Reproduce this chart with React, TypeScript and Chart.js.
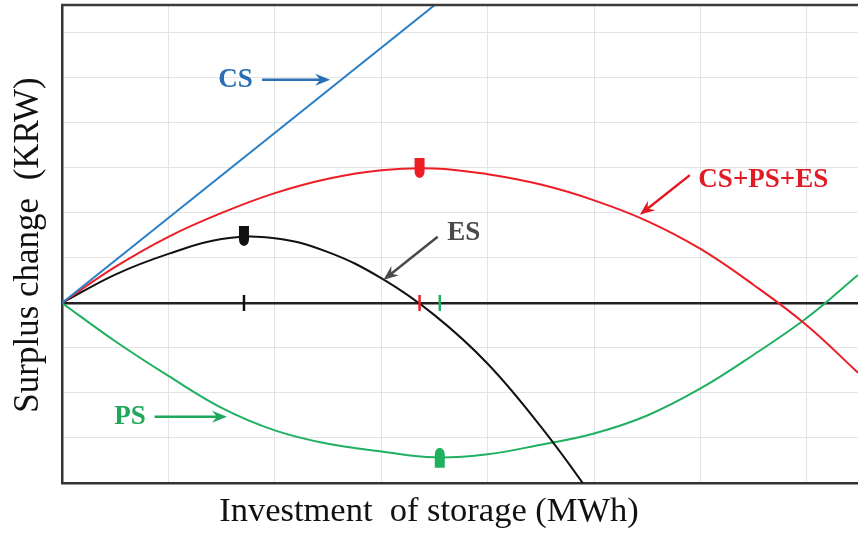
import React, { useEffect, useRef } from "react";
import { Chart, registerables } from "chart.js";

Chart.register(...registerables);

// ---- data ----
const xCS = [0, 4];
const yCS = [0, 7.56];

const xTotal = [0, 0.5, 1, 1.5, 2, 2.5, 3, 3.5, 4, 4.5, 5, 5.5, 6, 6.5, 7, 7.48];
const yTotal = [0, 0.8, 1.47, 2.0, 2.44, 2.76, 2.95, 2.99, 2.86, 2.63, 2.28, 1.82, 1.2, 0.4, -0.5, -1.55];

const xES = [0, 0.5, 1, 1.5, 2, 2.5, 3, 3.5, 4, 4.5, 5, 5.5];
const yES = [0, 0.63, 1.09, 1.42, 1.44, 1.13, 0.55, -0.27, -1.35, -2.75, -4.35, -6.0];

const xPS = [0, 0.5, 1, 1.5, 2, 2.5, 3, 3.5, 4, 4.5, 5, 5.5, 6, 6.5, 7, 7.48];
const yPS = [0, -0.85, -1.62, -2.33, -2.83, -3.13, -3.3, -3.43, -3.36, -3.15, -2.9, -2.5, -1.9, -1.15, -0.33, 0.62];

// optimum markers (x, y, direction) and their ticks on the zero axis
const optX = [1.71, 3.36, 3.55];
const optY = [1.49, 3.0, -3.44];
const optDir = ["down", "down", "up"];

// curve labels: text anchor and arrow from/to in data units
const labelText = ["CS", "CS+PS+ES", "ES", "PS"];
const labelX = [1.63, 5.98, 3.62, 0.64];
const labelY = [4.96, 2.73, 1.56, -2.53];
const labelAlign = ["center", "left", "left", "center"];
const arrowFromX = [1.88, 5.9, 3.53, 0.87];
const arrowFromY = [4.96, 2.84, 1.47, -2.53];
const arrowToX = [2.52, 5.43, 3.02, 1.55];
const arrowToY = [4.96, 1.96, 0.51, -2.53];

const xMin = 0, xMax = 7.48, yMin = -4, yMax = 6.62;

const BLUE = "#2b7fc4";
const RED = "#ee1c25";
const BLACK = "#111111";
const GREEN = "#1fb060";
const labelColors = ["#2a6fb3", "#e01b24", "#4a4a4a", "#1ea85c"];
const optColors = [BLACK, RED, GREEN];

const pts = (xs: number[], ys: number[]) => xs.map((x, i) => ({ x, y: ys[i] }));

function drawArrow(ctx: CanvasRenderingContext2D, x1: number, y1: number, x2: number, y2: number, color: string) {
  const ang = Math.atan2(y2 - y1, x2 - x1);
  const hl = 15, hw = 6;
  ctx.save();
  ctx.strokeStyle = color;
  ctx.fillStyle = color;
  ctx.lineWidth = 2.5;
  ctx.beginPath();
  ctx.moveTo(x1, y1);
  ctx.lineTo(x2 - Math.cos(ang) * 6, y2 - Math.sin(ang) * 6);
  ctx.stroke();
  ctx.translate(x2, y2);
  ctx.rotate(ang);
  ctx.beginPath();
  ctx.moveTo(0, 0);
  ctx.lineTo(-hl, -hw);
  ctx.lineTo(-hl + 5, 0);
  ctx.lineTo(-hl, hw);
  ctx.closePath();
  ctx.fill();
  ctx.restore();
}

function drawBullet(ctx: CanvasRenderingContext2D, x: number, y: number, dir: string, color: string) {
  const w = 10, h = 20;
  ctx.save();
  ctx.fillStyle = color;
  ctx.translate(x, y);
  if (dir === "up") ctx.scale(1, -1);
  ctx.beginPath();
  ctx.moveTo(-w / 2, -h / 2);
  ctx.lineTo(w / 2, -h / 2);
  ctx.lineTo(w / 2, h / 2 - 7);
  ctx.quadraticCurveTo(w / 2, h / 2 - 1, 0, h / 2);
  ctx.quadraticCurveTo(-w / 2, h / 2 - 1, -w / 2, h / 2 - 7);
  ctx.closePath();
  ctx.fill();
  ctx.restore();
}

const overlay = {
  id: "overlay",
  afterDatasetsDraw(chart: any) {
    const { ctx, chartArea, scales } = chart;
    const sx = scales.x, sy = scales.y;
    ctx.save();
    // top frame line
    ctx.strokeStyle = "#3a3a3a";
    ctx.lineWidth = 2.5;
    ctx.beginPath();
    ctx.moveTo(chartArea.left - 1, chartArea.top);
    ctx.lineTo(chartArea.right, chartArea.top);
    ctx.stroke();

    // ticks on zero axis
    const y0 = sy.getPixelForValue(0);
    optX.forEach((v, i) => {
      const px = sx.getPixelForValue(v);
      ctx.strokeStyle = optColors[i];
      ctx.lineWidth = 2.5;
      ctx.beginPath();
      ctx.moveTo(px, y0 - 8);
      ctx.lineTo(px, y0 + 8);
      ctx.stroke();
    });
    // optimum markers
    optX.forEach((v, i) => {
      drawBullet(ctx, sx.getPixelForValue(v), sy.getPixelForValue(optY[i]), optDir[i], optColors[i]);
    });
    // labels & arrows
    labelText.forEach((t, i) => {
      drawArrow(
        ctx,
        sx.getPixelForValue(arrowFromX[i]), sy.getPixelForValue(arrowFromY[i]),
        sx.getPixelForValue(arrowToX[i]), sy.getPixelForValue(arrowToY[i]),
        labelColors[i]
      );
      ctx.fillStyle = labelColors[i];
      ctx.font = "bold 27px 'Liberation Serif', 'Times New Roman', serif";
      ctx.textAlign = labelAlign[i] as CanvasTextAlign;
      ctx.textBaseline = "middle";
      ctx.fillText(t, sx.getPixelForValue(labelX[i]), sy.getPixelForValue(labelY[i]));
    });

    // axis titles
    ctx.fillStyle = "#111";
    ctx.textAlign = "center";
    ctx.textBaseline = "middle";
    ctx.font = "34.5px 'Liberation Serif', 'Times New Roman', serif";
    ctx.fillText("Investment  of storage (MWh)", 429, 512);
    ctx.save();
    ctx.translate(29, 245);
    ctx.rotate(-Math.PI / 2);
    ctx.font = "35px 'Liberation Serif', 'Times New Roman', serif";
    ctx.fillText("Surplus change  (KRW)", 0, 0);
    ctx.restore();
    ctx.restore();
  },
};

export default function App() {
  const ref = useRef<HTMLCanvasElement | null>(null);
  useEffect(() => {
    document.body.style.margin = "0";
    if (!ref.current) return;
    const chart = new Chart(ref.current, {
      type: "line",
      data: {
        datasets: [
          { label: "CS", data: pts(xCS, yCS), borderColor: BLUE, borderWidth: 2, pointRadius: 0, tension: 0 },
          { label: "CS+PS+ES", data: pts(xTotal, yTotal), borderColor: RED, borderWidth: 2, pointRadius: 0, tension: 0.4 },
          { label: "ES", data: pts(xES, yES), borderColor: BLACK, borderWidth: 2, pointRadius: 0, tension: 0.4 },
          { label: "PS", data: pts(xPS, yPS), borderColor: GREEN, borderWidth: 2, pointRadius: 0, tension: 0.4 },
        ],
      },
      options: {
        animation: false,
        responsive: true,
        maintainAspectRatio: false,
        layout: { padding: { left: 62, top: 5, right: 0, bottom: 50 } },
        plugins: { legend: { display: false }, tooltip: { enabled: false } },
        scales: {
          x: {
            type: "linear",
            min: xMin,
            max: xMax,
            ticks: { display: false, stepSize: 1 },
            grid: {
              drawTicks: false,
              color: (c: any) => (c.tick && c.tick.value > 7.2 ? "rgba(0,0,0,0)" : "#e4e4e4"),
              lineWidth: 1,
            },
            border: { display: true, color: "#333", width: 2.5 },
            afterFit: (s: any) => { s.height = 0; },
          },
          y: {
            type: "linear",
            min: yMin,
            max: yMax,
            ticks: { display: false, stepSize: 1 },
            grid: {
              drawTicks: false,
              color: (c: any) => (c.tick && c.tick.value === 0 ? "#222" : "#e4e4e4"),
              lineWidth: (c: any) => (c.tick && c.tick.value === 0 ? 2.5 : 1),
            },
            border: { display: true, color: "#333", width: 2.5 },
            afterFit: (s: any) => { s.width = 0; },
          },
        },
      },
      plugins: [overlay],
    });
    return () => chart.destroy();
  }, []);
  return (
    <div style={{ width: 858, height: 533, position: "relative", background: "#fff" }}>
      <canvas ref={ref} />
    </div>
  );
}
